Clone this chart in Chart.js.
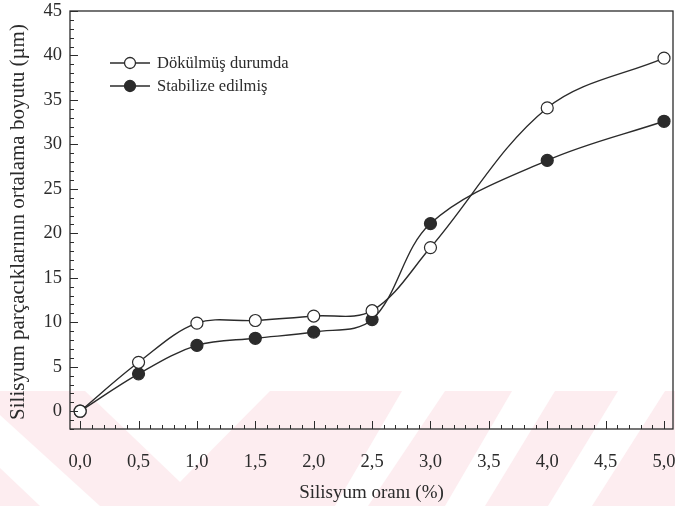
<!DOCTYPE html>
<html>
<head>
<meta charset="utf-8">
<title>Silisyum oranı</title>
<script src="https://cdn.jsdelivr.net/npm/chart.js"></script>
<style>
html, body { margin: 0; padding: 0; background: #fff; overflow: hidden; }
canvas { display: block; }
</style>
</head>
<body>
<canvas id="myChart" width="675" height="506"></canvas>
<script>
// veriler
const xValues = [0, 0.5, 1.0, 1.5, 2.0, 2.5, 3.0, 4.0, 5.0];
const dokulmus = [0, 5.5, 9.9, 10.2, 10.7, 11.3, 18.4, 34.1, 39.7];
const stabilize = [0, 4.2, 7.4, 8.2, 8.9, 10.3, 21.1, 28.2, 32.6];
const xTicks = [0, 0.5, 1.0, 1.5, 2.0, 2.5, 3.0, 3.5, 4.0, 4.5, 5.0];
const yTicks = [0, 5, 10, 15, 20, 25, 30, 35, 40, 45];
const legendLabels = ['Dökülmüş durumda', 'Stabilize edilmiş'];
const yTitle = 'Silisyum parçacıklarının ortalama boyutu (µm)';

const serif = "'Liberation Serif', 'DejaVu Serif', serif";
const ink = '#2b2b2b';

function toPoints(ys) {
    return xValues.map(function (x, i) { return { x: x, y: ys[i] }; });
}

// alttaki soluk pembe filigran
const watermark = {
    id: 'watermark',
    beforeDraw: function (chart) {
        const ctx = chart.ctx;
        const whites = [
            [[0, 415], [0, 468], [40, 506], [100, 506]],
            [[85, 391], [270, 391], [180, 482]],
            [[402, 391], [445, 391], [368, 506], [335, 506]],
            [[512, 391], [555, 391], [485, 506], [445, 506]],
            [[618, 391], [665, 391], [592, 506], [548, 506]]
        ];
        ctx.save();
        ctx.fillStyle = '#fdedf0';
        ctx.fillRect(0, 391, 675, 115);
        ctx.fillStyle = '#fff';
        whites.forEach(function (p) {
            ctx.beginPath();
            ctx.moveTo(p[0][0], p[0][1]);
            for (let i = 1; i < p.length; i++) ctx.lineTo(p[i][0], p[i][1]);
            ctx.closePath();
            ctx.fill();
        });
        ctx.restore();
    }
};

// çerçeve, içe dönük tikler, y başlığı ve lejant
const decor = {
    id: 'decor',
    afterDraw: function (chart) {
        const ctx = chart.ctx;
        const a = chart.chartArea;
        const xs = chart.scales.x;
        const ys = chart.scales.y;
        ctx.save();
        ctx.strokeStyle = ink;
        ctx.lineWidth = 1.3;
        ctx.strokeRect(a.left, a.top, a.right - a.left, a.bottom - a.top);

        ctx.lineWidth = 1;
        ctx.beginPath();
        // x tikleri (0.1 aralık)
        for (let k = 0; k <= 50; k++) {
            const v = k / 10;
            const px = Math.round(xs.getPixelForValue(v)) + 0.5;
            const len = (k % 5 === 0) ? 8 : 4;
            ctx.moveTo(px, a.bottom);
            ctx.lineTo(px, a.bottom - len);
        }
        // y tikleri (1 aralık)
        for (let v = -2; v <= 45; v++) {
            const py = Math.round(ys.getPixelForValue(v)) + 0.5;
            const len = (v % 5 === 0) ? 8 : 4;
            ctx.moveTo(a.left, py);
            ctx.lineTo(a.left + len, py);
        }
        ctx.stroke();

        // y ekseni başlığı
        ctx.save();
        ctx.translate(18, 222);
        ctx.rotate(-Math.PI / 2);
        ctx.font = '21px ' + serif;
        ctx.textAlign = 'center';
        ctx.textBaseline = 'middle';
        ctx.fillStyle = ink;
        ctx.fillText(yTitle, 0, 0);
        ctx.restore();

        // lejant
        const rows = [
            { y: 63, fill: '#fff', text: legendLabels[0] },
            { y: 86, fill: ink, text: legendLabels[1] }
        ];
        ctx.font = '16.5px ' + serif;
        ctx.textBaseline = 'middle';
        rows.forEach(function (r) {
            ctx.lineWidth = 1.3;
            ctx.beginPath();
            ctx.moveTo(110, r.y);
            ctx.lineTo(150, r.y);
            ctx.stroke();
            ctx.beginPath();
            ctx.arc(130, r.y, 5.5, 0, Math.PI * 2);
            ctx.fillStyle = r.fill;
            ctx.fill();
            ctx.stroke();
            ctx.fillStyle = ink;
            ctx.fillText(r.text, 157, r.y + 1);
        });
        ctx.restore();
    }
};

const config = {
    type: 'line',
    data: {
        datasets: [
            {
                label: legendLabels[0],
                data: toPoints(dokulmus),
                borderColor: ink,
                borderWidth: 1.4,
                backgroundColor: '#fff',
                pointBackgroundColor: '#fff',
                pointBorderColor: ink,
                pointBorderWidth: 1.2,
                pointRadius: 6,
                tension: 0.35,
                fill: false
            },
            {
                label: legendLabels[1],
                data: toPoints(stabilize),
                borderColor: ink,
                borderWidth: 1.4,
                backgroundColor: ink,
                pointBackgroundColor: ink,
                pointBorderColor: ink,
                pointBorderWidth: 1.2,
                pointRadius: 6,
                tension: 0.35,
                fill: false
            }
        ]
    },
    options: {
        responsive: false,
        animation: false,
        layout: { autoPadding: false, padding: { top: 11, right: 2, left: 0, bottom: 0 } },
        plugins: {
            legend: { display: false },
            tooltip: { enabled: false }
        },
        scales: {
            x: {
                type: 'linear',
                min: -0.087,
                max: 5.077,
                grid: { display: false, drawTicks: false },
                border: { display: false },
                afterBuildTicks: function (scale) {
                    scale.ticks = xTicks.map(function (v) { return { value: v }; });
                },
                afterFit: function (scale) {
                    scale.height = 77;
                    scale.paddingLeft = 0;
                    scale.paddingRight = 0;
                },
                ticks: {
                    padding: 22,
                    maxRotation: 0,
                    color: ink,
                    font: { family: serif, size: 18.5 },
                    callback: function (v) { return v.toFixed(1).replace('.', ','); }
                },
                title: {
                    display: true,
                    text: 'Silisyum oranı (%)',
                    color: ink,
                    font: { family: serif, size: 19 },
                    padding: { top: 0, bottom: 2 }
                }
            },
            y: {
                min: -2,
                max: 45,
                grid: { display: false, drawTicks: false },
                border: { display: false },
                afterBuildTicks: function (scale) {
                    scale.ticks = yTicks.map(function (v) { return { value: v }; });
                },
                afterFit: function (scale) {
                    scale.width = 70;
                    scale.paddingTop = 0;
                    scale.paddingBottom = 0;
                },
                ticks: {
                    padding: 8,
                    color: ink,
                    font: { family: serif, size: 18.5 }
                },
                title: { display: false }
            }
        }
    },
    plugins: [watermark, decor]
};

const myChart = new Chart(document.getElementById('myChart'), config);
</script>
</body>
</html>
